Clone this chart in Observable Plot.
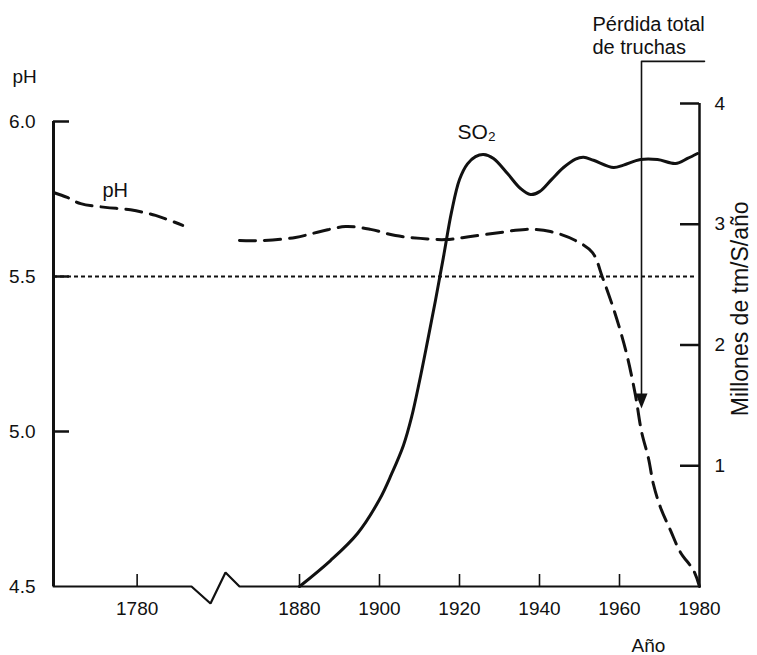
<!DOCTYPE html>
<html><head><meta charset="utf-8">
<script src="https://cdn.jsdelivr.net/npm/d3@7"></script>
<script src="https://cdn.jsdelivr.net/npm/@observablehq/plot@0.6"></script>
<style>
body{margin:0;background:#fff}
#chart svg{font-family:"Liberation Sans",Arial,Helvetica,sans-serif;background:#fff}
</style>
</head><body><div id="chart"></div>
<script>
// ---- data ----
// pH of the lake, early segment (before the axis break)
const phYearsEarly = [1760, 1763.3, 1766.5, 1772.4, 1778.4, 1784.4, 1790.9];
const phEarly      = [5.771, 5.755, 5.735, 5.723, 5.715, 5.697, 5.665];
// pH, later segment
const phYearsLate = [1865, 1870.75, 1879, 1885.25, 1891.5, 1897.75, 1904, 1910.25, 1916.5, 1922.75,
                     1930.25, 1936.5, 1942.75, 1949, 1953.25, 1955.75, 1958.25, 1960.25, 1962, 1964,
                     1965.5, 1967.25, 1968.5, 1970.25, 1972.75, 1975.25, 1978.5, 1980];
const phLate      = [5.616, 5.616, 5.626, 5.645, 5.661, 5.652, 5.632, 5.623, 5.619, 5.629,
                     5.642, 5.652, 5.645, 5.616, 5.577, 5.497, 5.406, 5.323, 5.239, 5.116,
                     5.0, 4.913, 4.829, 4.755, 4.681, 4.61, 4.552, 4.5];
// SO2 emissions, millions of t S / year
const so2Years  = [1880, 1887.75, 1894.5, 1900, 1903, 1906, 1908, 1910, 1912, 1914,
                   1916, 1918, 1920, 1922, 1924, 1926, 1928.5, 1932, 1935.25, 1937.75,
                   1940, 1943, 1946, 1949, 1951, 1953.5, 1958.5, 1961, 1965.25, 1969.5,
                   1974, 1977, 1979.5];
const so2Values = [0, 0.215, 0.439, 0.72, 0.93, 1.17, 1.40, 1.70, 2.03, 2.37,
                   2.73, 3.10, 3.37, 3.50, 3.56, 3.578, 3.545, 3.42, 3.296, 3.246,
                   3.27, 3.37, 3.47, 3.54, 3.555, 3.53, 3.47, 3.49, 3.536, 3.536,
                   3.503, 3.545, 3.586];
// axes
const phTicks = [6.0, 5.5, 5.0, 4.5];
const so2Ticks = [1, 2, 3, 4];
const yearTicks = [1780, 1880, 1900, 1920, 1940, 1960, 1980];
const phReference = [5.5];
// broken x axis (years) with its zigzag (in pH units)
const axisBreakYears = [1760, 1793, 1821.5, 1844, 1865, 1980];
const axisBreakPH    = [4.5, 4.5, 4.445, 4.545, 4.5, 4.5];
// annotation: total loss of trout
const troutLossYear = 1965.5;
const bracketYears = [1981.25, troutLossYear, troutLossYear];
const bracketPH    = [6.194, 6.194, 5.12];
const arrowTipPH = 5.074;
const annotationLines = ["Pérdida total", "de truchas"];
const rightTitle = "Millones de tm/S/año";

// ---- geometry ----
const W = 757, H = 655;
const mTop = 121, mBottom = 69, mLeft = 53, mRight = 58;
const frameW = W - mLeft - mRight, frameH = H - mTop - mBottom;
// right axis: 0..4 spans 483px, left 4.5..6.0 spans 465px
const so2ToPH = v => 4.5 + v * (483 / 4) / (465 / 1.5);

const zip = (xs, ys) => xs.map((x, i) => ({x, y: ys[i]}));
const early = zip(phYearsEarly, phEarly);
const late = zip(phYearsLate, phLate);
const so2 = zip(so2Years, so2Values.map(so2ToPH));
const axisLine = zip(axisBreakYears, axisBreakPH);
const bracket = zip(bracketYears, bracketPH);

// filled arrowhead pointing down, tip at the anchor point
const arrowHead = {
  draw(context) {
    context.moveTo(-6, -15);
    context.lineTo(6, -15);
    context.lineTo(0, 0);
    context.closePath();
  }
};

const chart = Plot.plot({
  width: W, height: H,
  marginTop: mTop, marginBottom: mBottom, marginLeft: mLeft, marginRight: mRight,
  x: {type: "linear", domain: [1760, 1793, 1865, 1980], range: [53, 191, 239, 699], axis: null},
  y: {type: "linear", domain: [4.5, 6.0], range: [H - mBottom, mTop], axis: null},
  marks: [
    // reference line pH 5.5
    Plot.ruleY(phReference, {x1: 1760, x2: 1979.4, stroke: "#111", strokeWidth: 2, strokeDasharray: "4,3"}),
    // axes
    Plot.ruleX([1760], {y1: 4.5, y2: 6.0, stroke: "#111", strokeWidth: 3}),
    Plot.ruleX([1980], {y1: 4.5, y2: so2ToPH(4), stroke: "#111", strokeWidth: 2.5}),
    Plot.line(axisLine, {x: "x", y: "y", stroke: "#111", strokeWidth: 2.2, strokeLinejoin: "miter"}),
    Plot.tickY(phTicks.filter(d => d > 4.5), {y: d => d, insetRight: frameW - 16, stroke: "#111", strokeWidth: 2.5}),
    Plot.tickY(so2Ticks, {y: so2ToPH, insetLeft: frameW - 19, stroke: "#111", strokeWidth: 2.5}),
    Plot.tickX(yearTicks.filter(d => d < 1980), {x: d => d, insetTop: frameH - 12, stroke: "#111", strokeWidth: 1.6}),
    // tick labels
    Plot.text(phTicks, {x: 1760, y: d => d, text: d => d.toFixed(1), dx: -18, textAnchor: "end", fontSize: 19, fill: "#111"}),
    Plot.text(so2Ticks, {x: 1980, y: so2ToPH, text: d => String(d), dx: 15, textAnchor: "start", fontSize: 19, fill: "#111"}),
    Plot.text(yearTicks, {x: d => d, y: 4.5, text: d => String(d), dy: 15, lineAnchor: "top", fontSize: 19, fill: "#111"}),
    // axis titles
    Plot.text(["pH"], {x: 1760, y: 6.0, dx: -41, dy: -39, textAnchor: "start", lineAnchor: "bottom", fontSize: 19, fill: "#111"}),
    Plot.text(["Año"], {x: 1967.25, y: 4.5, dy: 65, lineAnchor: "bottom", fontSize: 19, fill: "#111"}),
    Plot.text([rightTitle], {x: 1980, y: so2ToPH(2.30), dx: 41, rotate: -90, fontSize: 23, fill: "#111"}),
    // data lines
    Plot.line(early, {x: "x", y: "y", stroke: "#111", strokeWidth: 3, strokeDasharray: "16,9", curve: "catmull-rom"}),
    Plot.line(late, {x: "x", y: "y", stroke: "#111", strokeWidth: 3, strokeDasharray: "16,9", curve: "catmull-rom"}),
    Plot.line(so2, {x: "x", y: "y", stroke: "#111", strokeWidth: 3, curve: "catmull-rom"}),
    // series labels
    Plot.text(["pH"], {x: 1771.7, y: 5.758, textAnchor: "start", lineAnchor: "bottom", fontSize: 20, fill: "#111"}),
    Plot.text(["SO₂"], {x: 1919.5, y: 5.945, textAnchor: "start", lineAnchor: "bottom", fontSize: 21, fill: "#111"}),
    // trout-loss annotation
    Plot.line(bracket, {x: "x", y: "y", stroke: "#111", strokeWidth: 1.6}),
    Plot.dot([troutLossYear], {x: d => d, y: arrowTipPH, symbol: arrowHead, r: 5, fill: "#111", stroke: "none"}),
    Plot.text([annotationLines.join("\n")], {x: 1953.25, y: 6.219, textAnchor: "start", lineAnchor: "bottom", lineHeight: 1.15, fontSize: 20, fill: "#111"})
  ]
});
document.getElementById("chart").append(chart);
</script>
</body></html>
